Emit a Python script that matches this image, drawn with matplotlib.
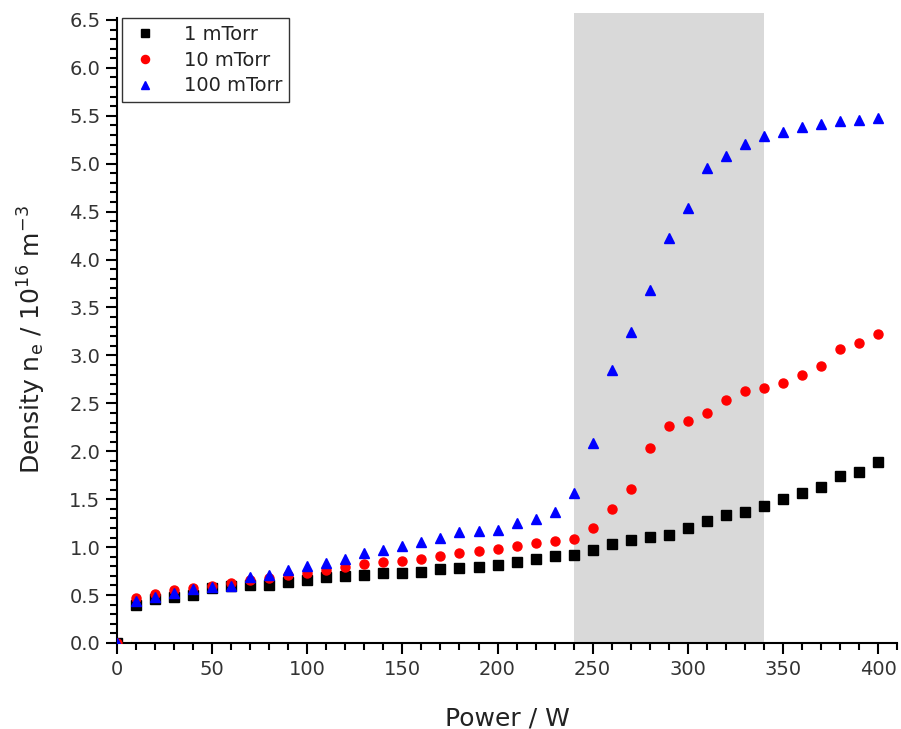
import matplotlib
matplotlib.use("Agg")
import matplotlib.pyplot as plt
from matplotlib.ticker import MultipleLocator

power = [0, 10, 20, 30, 40, 50, 60, 70, 80, 90, 100, 110, 120, 130, 140, 150, 160, 170, 180, 190, 200,
         210, 220, 230, 240, 250, 260, 270, 280, 290, 300, 310, 320, 330, 340, 350, 360, 370, 380, 390, 400]

dens_1 = [0.0, 0.40, 0.46, 0.48, 0.50, 0.57, 0.59, 0.61, 0.61, 0.64, 0.66, 0.69, 0.70, 0.71, 0.73, 0.73,
          0.74, 0.77, 0.78, 0.79, 0.81, 0.84, 0.88, 0.91, 0.92, 0.97, 1.03, 1.07, 1.11, 1.13, 1.20,
          1.27, 1.34, 1.37, 1.43, 1.50, 1.56, 1.63, 1.74, 1.78, 1.89]

dens_10 = [0.0, 0.47, 0.51, 0.55, 0.57, 0.59, 0.63, 0.66, 0.68, 0.71, 0.73, 0.76, 0.79, 0.82, 0.84, 0.86,
           0.88, 0.91, 0.94, 0.96, 0.98, 1.01, 1.04, 1.06, 1.085, 1.20, 1.40, 1.61, 2.03, 2.26, 2.32,
           2.40, 2.54, 2.63, 2.66, 2.71, 2.80, 2.89, 3.07, 3.13, 3.22]

dens_100 = [0.0, 0.44, 0.48, 0.52, 0.56, 0.58, 0.59, 0.69, 0.71, 0.76, 0.80, 0.83, 0.88, 0.94, 0.97, 1.01,
            1.05, 1.09, 1.16, 1.17, 1.18, 1.25, 1.29, 1.37, 1.56, 2.09, 2.85, 3.24, 3.68, 4.22, 4.54,
            4.95, 5.08, 5.21, 5.29, 5.33, 5.38, 5.41, 5.45, 5.46, 5.48]

labels = ["1 mTorr", "10 mTorr", "100 mTorr"]
shade_range = (240, 340)

plt.rcParams['font.family'] = ['DejaVu Sans']

fig = plt.figure(figsize=(9.01, 7.29), dpi=100)
ax = fig.add_axes([0.1299, 0.1180, 0.8657, 0.8573])

ax.axvspan(shade_range[0], shade_range[1], ymin=0, ymax=1.008, color='#d9d9d9', lw=0, clip_on=False, zorder=0)

ax.plot(power, dens_1, ls='none', marker='s', ms=6.5, color='black', label=labels[0], zorder=3)
ax.plot(power, dens_10, ls='none', marker='o', ms=6.5, color='red', label=labels[1], zorder=3)
ax.plot(power, dens_100, ls='none', marker='^', ms=7, color='blue', label=labels[2], zorder=3)

ax.set_xlim(0, 410)
ax.set_ylim(0, 6.52)
ax.xaxis.set_major_locator(MultipleLocator(50))
ax.xaxis.set_minor_locator(MultipleLocator(10))
ax.yaxis.set_major_locator(MultipleLocator(0.5))
ax.yaxis.set_minor_locator(MultipleLocator(0.1))
ax.yaxis.set_major_formatter(matplotlib.ticker.FormatStrFormatter('%.1f'))

for s in ['top', 'right']:
    ax.spines[s].set_visible(False)
for s in ['left', 'bottom']:
    ax.spines[s].set_linewidth(1.5)

ax.tick_params(which='major', direction='out', length=8, width=1.5, labelsize=14, labelcolor='#333333', pad=4)
ax.tick_params(which='minor', direction='out', length=5, width=1.5)

ax.set_xlabel('Power / W', fontsize=18, color='#222222', labelpad=20)
ax.set_ylabel(r'Density n$_\mathregular{e}$ / 10$^\mathregular{16}$ m$^\mathregular{-3}$', fontsize=18,
              color='#222222')
ax.yaxis.set_label_coords(-0.088, 0.485)

leg = ax.legend(loc='upper left', bbox_to_anchor=(0.007, 1.0), borderaxespad=0, fontsize=14, frameon=True,
                fancybox=False, edgecolor='black', handletextpad=1.2, borderpad=0.35, labelspacing=0.35,
                handlelength=1.6, markerscale=0.9)
leg.get_frame().set_linewidth(1.0)
for t in leg.get_texts():
    t.set_color('#222222')

fig.savefig('out.png', dpi=100)
